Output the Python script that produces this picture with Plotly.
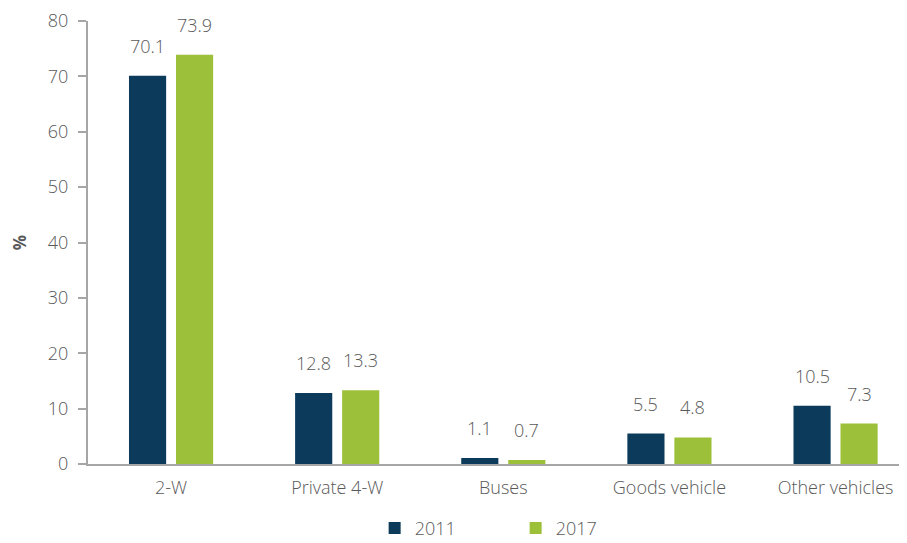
import plotly.graph_objects as go

categories = ["2-W", "Private 4-W", "Buses", "Goods vehicle", "Other vehicles"]
share_2011 = [70.1, 12.8, 1.1, 5.5, 10.5]
share_2017 = [73.9, 13.3, 0.7, 4.8, 7.3]
y_ticks = [0, 10, 20, 30, 40, 50, 60, 70, 80]

NAVY = "#0B3A5B"
GREEN = "#9DC03B"
GREY_TXT = "#595959"
AXIS = "#A6A6A6"
FONT = "Open Sans"
FS = 18

fig = go.Figure()
for name, vals, col in [("2011", share_2011, NAVY), ("2017", share_2017, GREEN)]:
    fig.add_trace(go.Bar(
        name=name,
        x=categories,
        y=vals,
        marker=dict(color=col, line=dict(width=0)),
        hovertemplate="%{x}<br>" + name + ": %{y:.1f}%<extra></extra>",
    ))

# value labels sit a bit higher above the bars than plotly's "outside" text
for vals, shift in [(share_2011, -23.5), (share_2017, 23.5)]:
    for cat, v in zip(categories, vals):
        fig.add_annotation(
            x=cat, y=v, text=f"{v:.1f}", showarrow=False,
            xshift=shift, yshift=16, yanchor="bottom",
            font=dict(size=FS, color=GREY_TXT, family=FONT, weight=300),
        )

fig.update_layout(
    width=899, height=535,
    barmode="group",
    bargap=0.434,
    bargroupgap=0.21,
    paper_bgcolor="white",
    plot_bgcolor="white",
    font=dict(family=FONT, color=GREY_TXT, size=FS, weight=300),
    margin=dict(l=80, r=0, t=13, b=79, autoexpand=False),
    showlegend=True,
    legend=dict(
        orientation="h", x=0.350, xanchor="left", y=-0.145, yanchor="middle",
        font=dict(size=FS, color=GREY_TXT, weight=300),
        entrywidth=96, entrywidthmode="pixels",
        itemwidth=30,
    ),
)
fig.update_xaxes(
    range=[-0.5, 4.43],
    showline=True, linecolor=AXIS, linewidth=2,
    ticks="", showgrid=False, automargin=False,
    ticklabelstandoff=6,
    tickfont=dict(size=FS, color=GREY_TXT, weight=300),
)
fig.update_yaxes(
    range=[0, 80],
    tickvals=y_ticks,
    showline=True, linecolor=AXIS, linewidth=2,
    ticks="outside", ticklen=8, tickcolor=AXIS, tickwidth=2,
    ticklabelstandoff=6,
    showgrid=False, zeroline=False, automargin=False,
    tickfont=dict(size=FS, color=GREY_TXT, weight=300),
    title=dict(text="<b>%</b>", font=dict(size=17, color=GREY_TXT), standoff=18),
)

fig.write_html("out.html")
